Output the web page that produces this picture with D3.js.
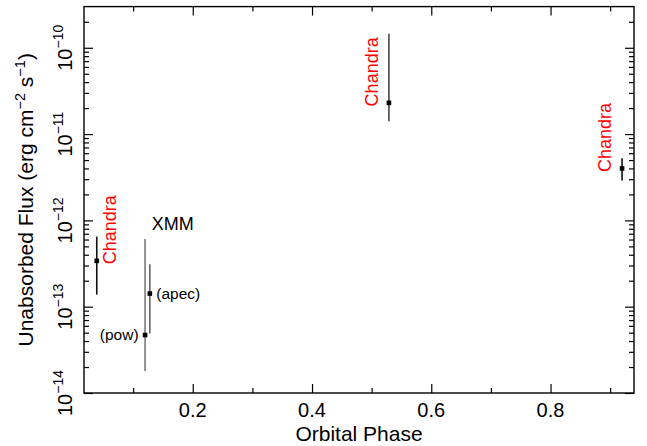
<!DOCTYPE html>
<html><head><meta charset="utf-8">
<script src="https://cdn.jsdelivr.net/npm/d3@7"></script>
<style>
html,body{margin:0;padding:0;background:#fff;}
svg text{font-family:"Liberation Sans",Arial,Helvetica,sans-serif;}
</style></head>
<body><svg id="chart" width="647" height="446"></svg>
<script>
// ---- data ----
const names   = ["Chandra", "XMM pow", "XMM apec", "Chandra", "Chandra"];
const phases  = [0.039, 0.120, 0.128, 0.529, 0.920];
const flux    = [3.4e-13, 4.7e-14, 1.42e-13, 2.3e-11, 4.0e-12];
const fluxLo  = [1.38e-13, 1.8e-14, 4.9e-14, 1.41e-11, 2.9e-12];
const fluxHi  = [6.5e-13, 6.1e-13, 3.1e-13, 1.45e-10, 5.25e-12];
const xMajor  = [0.2, 0.4, 0.6, 0.8];
const xMinor  = [0.1, 0.3, 0.5, 0.7, 0.9];
const yMajor  = [1e-14, 1e-13, 1e-12, 1e-11, 1e-10];
const yMajorLabels = ["−14", "−13", "−12", "−11", "−10"];

const svg = d3.select("#chart");
const L = 84, R = 634, T = 6.6, B = 393;
const x = d3.scaleLinear().domain([0.0176, 0.94]).range([L, R]);
const y = d3.scaleLog().domain([1e-14, 3e-10]).range([B, T]);

// minor y ticks
const yMinor = [];
for (let e = -14; e <= -10; e++) for (let m = 2; m <= 9; m++) {
  const v = m * Math.pow(10, e);
  if (v < 3e-10) yMinor.push(v);
}

function axisG(axis, tr) {
  const g = svg.append("g").attr("transform", tr).call(axis);
  g.select(".domain").remove();
  g.selectAll("line").attr("stroke", "#000").attr("stroke-width", 1.2);
  g.selectAll("text").remove();
  return g;
}
axisG(d3.axisBottom(x).tickValues(xMajor).tickSize(-9).tickSizeOuter(0), `translate(0,${B})`);
axisG(d3.axisBottom(x).tickValues(xMinor).tickSize(-5).tickSizeOuter(0), `translate(0,${B})`);
axisG(d3.axisTop(x).tickValues(xMajor).tickSize(-9).tickSizeOuter(0), `translate(0,${T})`);
axisG(d3.axisTop(x).tickValues(xMinor).tickSize(-5).tickSizeOuter(0), `translate(0,${T})`);
axisG(d3.axisLeft(y).tickValues(yMajor).tickSize(-9).tickSizeOuter(0), `translate(${L},0)`);
axisG(d3.axisLeft(y).tickValues(yMinor).tickSize(-5).tickSizeOuter(0), `translate(${L},0)`);
axisG(d3.axisRight(y).tickValues(yMajor).tickSize(-9).tickSizeOuter(0), `translate(${R},0)`);
axisG(d3.axisRight(y).tickValues(yMinor).tickSize(-5).tickSizeOuter(0), `translate(${R},0)`);

// frame
svg.append("rect").attr("x", L).attr("y", T).attr("width", R - L).attr("height", B - T)
  .attr("fill", "none").attr("stroke", "#000").attr("stroke-width", 1.4);

// x tick labels
svg.selectAll(".xl").data(xMajor).enter().append("text")
  .attr("x", d => x(d)).attr("y", 417).attr("text-anchor", "middle")
  .attr("font-size", 20).text(d => d3.format(".1f")(d));

// y tick labels (rotated, with superscripts)
yMajor.forEach((v, i) => {
  const t = svg.append("text")
    .attr("transform", `translate(72,${y(v)}) rotate(-90)`)
    .attr("text-anchor", "middle").attr("font-size", 20);
  t.append("tspan").text("10");
  t.append("tspan").attr("font-size", 14).attr("dy", -9).text(yMajorLabels[i]);
});

// axis titles
svg.append("text").attr("x", (L + R) / 2).attr("y", 441).attr("text-anchor", "middle")
  .attr("font-size", 21).text("Orbital Phase");
const yt = svg.append("text").attr("transform", `translate(32.5,${(T + B) / 2}) rotate(-90)`)
  .attr("text-anchor", "middle").attr("font-size", 21);
yt.append("tspan").text("Unabsorbed Flux (erg cm");
yt.append("tspan").attr("font-size", 14.5).attr("dy", -8).text("−2");
yt.append("tspan").attr("dy", 8).text(" s");
yt.append("tspan").attr("font-size", 14.5).attr("dy", -8).text("−1");
yt.append("tspan").attr("dy", 8).text(")");

// error bars and markers
const barColor = ["#111", "#7a7a7a", "#666", "#444", "#111"];
phases.forEach((p, i) => {
  svg.append("line").attr("x1", x(p)).attr("x2", x(p))
    .attr("y1", y(fluxLo[i])).attr("y2", y(fluxHi[i]))
    .attr("stroke", barColor[i]).attr("stroke-width", 1.6);
});
svg.selectAll(".pt").data(phases).enter().append("rect")
  .attr("x", d => x(d) - 2.3).attr("y", (d, i) => y(flux[i]) - 2.3)
  .attr("width", 4.6).attr("height", 4.6).attr("fill", "#000");

// annotations
const red = "#ff0000";
function vlabel(px, py, txt) {
  svg.append("text").attr("transform", `translate(${px},${py}) rotate(-90)`)
    .attr("text-anchor", "middle").attr("font-size", 18).attr("fill", red).text(txt);
}
vlabel(x(phases[0]) + 19, y(flux[0]) - 31, names[0]);
vlabel(x(phases[3]) - 11, y(flux[3]) - 31, names[3]);
vlabel(x(phases[4]) - 11, y(flux[4]) - 31, names[4]);

svg.append("text").attr("x", x(phases[2]) + 2).attr("y", 229.5).attr("font-size", 18).text("XMM");
svg.append("text").attr("x", x(phases[1]) - 6.5).attr("y", y(flux[1]) + 5)
  .attr("text-anchor", "end").attr("font-size", 15.5).text("(pow)");
svg.append("text").attr("x", x(phases[2]) + 6.5).attr("y", y(flux[2]) + 5)
  .attr("font-size", 15.5).text("(apec)");
</script></body></html>
